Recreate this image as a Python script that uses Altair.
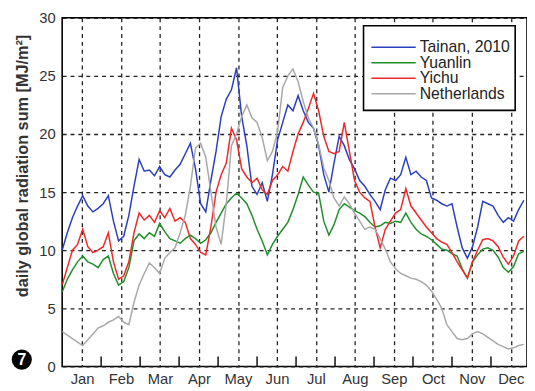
import altair as alt
import pandas as pd

# day of year sampled every 4 days
days = list(range(0, 361, 4))

tainan = [10.0, 11.5, 12.8, 13.8, 14.7, 13.8, 13.3, 13.6, 14.0, 14.7, 12.5, 10.8, 11.2, 13.0, 15.5, 17.8,
          16.8, 16.9, 16.4, 17.2, 16.5, 16.3, 16.9, 17.4, 18.3, 19.2, 17.0, 14.0, 13.3, 16.0, 18.5, 21.5,
          23.0, 23.8, 25.7, 21.5, 19.0, 15.5, 14.8, 15.8, 14.2, 16.5, 19.5, 21.0, 22.5, 22.0, 23.3, 22.0,
          21.0, 20.5, 19.0, 16.5, 15.0, 17.5, 19.8, 19.0, 17.8, 17.0, 16.0, 15.5, 14.8, 14.2, 13.5, 15.2,
          16.2, 16.0, 16.5, 18.0, 16.5, 16.8, 16.3, 16.0, 14.5, 14.3, 14.0, 13.8, 14.0, 12.0, 10.2, 9.3,
          10.3, 12.0, 14.2, 14.0, 13.8, 13.0, 12.4, 12.8, 12.5, 13.5, 14.3]

yichu = [7.0, 8.5, 10.0, 10.5, 11.8, 10.3, 9.8, 10.0, 10.3, 11.5, 9.0, 7.5, 7.8, 9.0, 11.5, 13.2,
         12.6, 13.0, 12.4, 13.4, 12.8, 13.6, 12.5, 12.8, 12.4, 11.0, 10.5, 9.8, 9.6, 12.0, 15.0, 16.5,
         17.5, 20.5, 19.5, 17.0, 16.3, 15.8, 16.2, 15.2, 14.8, 16.0, 16.5, 17.2, 16.8, 18.5, 20.0, 21.0,
         22.2, 23.5, 22.0, 19.8, 18.5, 18.3, 18.5, 21.0, 18.5, 16.0, 15.0, 14.5, 14.2, 12.0, 10.2, 11.8,
         12.5, 13.2, 13.5, 15.3, 13.8, 13.2, 12.6, 12.0, 11.5, 11.0, 10.7, 10.5, 9.8, 9.0, 8.3, 7.6,
         9.0, 10.0, 10.9, 11.0, 10.8, 10.3, 9.4, 8.8, 9.5, 10.8, 11.2]

yuanlin = [6.4, 7.5, 8.3, 9.0, 9.5, 9.0, 8.8, 8.5, 9.2, 9.5, 8.0, 7.0, 7.3, 8.5, 10.8, 11.4,
           11.0, 11.5, 11.2, 12.3, 11.6, 11.0, 10.8, 10.6, 11.0, 11.3, 11.0, 10.6, 10.9, 11.5, 12.4, 13.2,
           14.0, 14.5, 14.9, 14.5, 14.0, 13.0, 11.8, 10.8, 9.6, 10.5, 11.2, 11.8, 12.4, 13.5, 14.8, 16.3,
           15.6, 15.0, 14.9, 12.5, 11.3, 12.2, 13.5, 14.0, 13.7, 13.4, 13.2, 12.9, 12.4, 12.0, 12.1, 12.4,
           12.3, 12.5, 12.4, 13.2, 12.4, 11.8, 11.4, 11.2, 10.9, 10.5, 10.1, 10.0, 9.7, 9.5, 8.4, 7.6,
           9.0, 9.6, 10.1, 10.2, 10.0, 9.4, 8.5, 8.1, 8.6, 9.7, 9.9]

netherlands = [3.0, 2.7, 2.4, 2.1, 1.8, 2.3, 2.8, 3.3, 3.5, 3.8, 4.0, 4.3, 3.8, 3.6, 5.5, 7.0,
               8.0, 8.9, 8.5, 8.0, 9.3, 9.8, 10.2, 11.5, 13.0, 15.5, 18.8, 19.2, 18.0, 15.0, 12.0, 10.5,
               14.0, 19.0, 20.0, 21.5, 22.5, 21.4, 21.0, 19.7, 17.7, 18.5, 20.2, 24.0, 25.0, 25.6, 24.5, 22.8,
               21.4, 20.5, 19.1, 17.1, 16.0, 14.5, 13.8, 14.6, 14.0, 13.2, 12.5, 11.8, 12.0, 11.8, 11.0, 10.1,
               9.0, 8.4, 8.0, 7.8, 7.6, 7.5, 7.3, 7.0, 6.5, 5.8, 5.0, 3.6, 3.0, 2.4, 2.3, 2.4,
               2.8, 3.0, 2.8, 2.5, 2.2, 1.9, 1.7, 1.5, 1.6, 1.8, 1.9]

series_names = ["Tainan, 2010", "Yuanlin", "Yichu", "Netherlands"]
series_colors = ["#2a3fbf", "#1f8f2a", "#f02828", "#a8a8a8"]

month_names = ["Jan", "Feb", "Mar", "Apr", "May", "Jun", "Jul", "Aug", "Sep", "Oct", "Nov", "Dec"]
month_len = 30.4
month_mid = [15.5 + month_len * i for i in range(12)]
month_start = [month_len * i for i in range(1, 12)]

rows = []
for name, vals in zip(series_names, [tainan, yuanlin, yichu, netherlands]):
    for d, v in zip(days, vals):
        rows.append({"day": d, "value": v, "series": name})
df = pd.DataFrame(rows)

label_expr = "[" + ",".join(f"'{m}'" for m in month_names) + "][round((datum.value - 15.5) / 30.4)]"

xscale = alt.Scale(domain=[0, 362.5], nice=False, zero=False)
yscale = alt.Scale(domain=[0, 30], nice=False)

FONT = "Liberation Sans"

lines = alt.Chart(df).mark_line(strokeWidth=1.5, clip=True).encode(
    x=alt.X("day:Q", scale=xscale,
            axis=alt.Axis(values=month_mid, labelExpr=label_expr, title=None, grid=True,
                          gridDash=[4, 4], gridColor="#222", gridWidth=1.3, ticks=False,
                          domain=False, labelFont=FONT, labelFontSize=15, labelColor="#333",
                          labelPadding=5, labelFlush=False)),
    y=alt.Y("value:Q", scale=yscale,
            axis=alt.Axis(values=[0, 5, 10, 15, 20, 25, 30], title="daily global radiation sum [MJ/m²]",
                          grid=True, gridDash=[4, 4], gridColor="#222", gridWidth=1.3, ticks=False,
                          domain=False, labelFont=FONT, labelFontSize=15, labelColor="#333",
                          labelPadding=7, titleFont=FONT, titleFontSize=16.5, titleFontWeight="bold",
                          titleColor="#333", titlePadding=8, titleY=150)),
    color=alt.Color("series:N", scale=alt.Scale(domain=series_names, range=series_colors),
                    sort=series_names, legend=None),
    order=alt.Order("day:Q"),
)

tick_df = pd.DataFrame({"day": month_start, "y0": [0] * len(month_start), "y1": [0.85] * len(month_start)})
ticks = alt.Chart(tick_df).mark_rule(color="#111", strokeWidth=1.5).encode(
    x=alt.X("day:Q", scale=xscale),
    y=alt.Y("y0:Q", scale=yscale),
    y2="y1:Q",
)

# legend drawn by hand (box, stroke symbols, labels)
leg_df = pd.DataFrame({"series": series_names, "row": [0, 1, 2, 3]})
leg_box = alt.Chart(pd.DataFrame({"a": [1]})).mark_rect(fill="white", stroke="black", strokeWidth=1.6).encode(
    x=alt.value(306), x2=alt.value(460), y=alt.value(8), y2=alt.value(94))
leg_sym = alt.Chart(leg_df).mark_rule(strokeWidth=1.5).encode(
    x=alt.value(314), x2=alt.value(359),
    y=alt.Y("row:O", scale=alt.Scale(range=[22, 85]), axis=None),
    color=alt.Color("series:N", scale=alt.Scale(domain=series_names, range=series_colors), legend=None),
)
leg_txt = alt.Chart(leg_df).mark_text(align="left", baseline="middle", font=FONT, fontSize=16,
                                      color="#222").encode(
    x=alt.value(363),
    y=alt.Y("row:O", scale=alt.Scale(range=[22, 85]), axis=None),
    text="series:N",
)

badge_df = pd.DataFrame({"label": ["7"]})
badge = alt.Chart(badge_df).mark_point(filled=True, color="black", size=420, opacity=1, shape="circle").encode(
    x=alt.value(-41), y=alt.value(347))
badge_text = alt.Chart(badge_df).mark_text(color="white", fontSize=16, font=FONT, fontWeight="bold",
                                            baseline="middle", align="center").encode(
    x=alt.value(-41), y=alt.value(348), text="label:N")

chart = alt.layer(lines, ticks, leg_box, leg_sym, leg_txt, badge, badge_text).resolve_scale(
    y="independent"
).properties(
    width=472, height=354,
    autosize=alt.AutoSizeParams(type="none"),
    padding={"left": 55, "top": 7, "right": 0, "bottom": 22},
    background="white",
).configure_view(stroke="black", strokeWidth=1.6)

chart.save("out.html", embed_options={"renderer": "svg", "actions": False})
